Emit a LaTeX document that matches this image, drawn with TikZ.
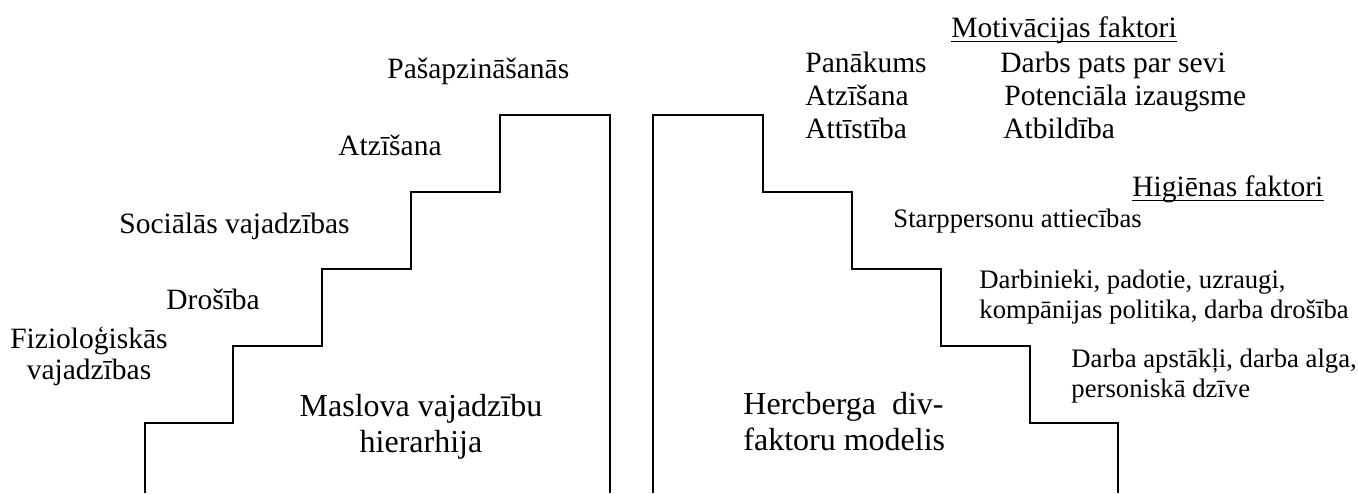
\documentclass[tikz,border=0pt]{standalone}
\usepackage{fontspec}
\setmainfont{Liberation Serif}
\begin{document}
\begin{tikzpicture}[x=0.5pt,y=-0.5pt,
    lbl/.style={anchor=base west, inner sep=0pt, font=\fontsize{14.75}{16}\selectfont},
    sml/.style={anchor=base west, inner sep=0pt, align=left, font=\fontsize{13.35}{15}\selectfont},
    big/.style={anchor=base, inner sep=0pt, align=center, font=\fontsize{16}{18}\selectfont},
    uline/.style={line width=0.5pt}]
  \useasboundingbox (0,0) rectangle (1358,493);
  % Maslow stairs
  \draw[line width=0.95pt] (145,493) -- (145,423) -- (233,423) -- (233,346) -- (322,346) -- (322,269)
    -- (411,269) -- (411,192) -- (500,192) -- (500,115) -- (610,115) -- (610,493);
  % Herzberg stairs
  \draw[line width=0.95pt] (1118,493) -- (1118,423) -- (1030,423) -- (1030,346) -- (941,346) -- (941,269)
    -- (852,269) -- (852,192) -- (763,192) -- (763,115) -- (653,115) -- (653,493);

  % multi-line nodes: base = last line
  \node[lbl] (selfact) at (387,78) {Pašapzināšanās};
  \node[lbl] (esteem) at (338,155) {Atzīšana};
  \node[lbl] (social) at (119,233) {Sociālās vajadzības};
  \node[lbl] (safety) at (166,309) {Drošība};
  \node[lbl, anchor=base, align=center, font=\fontsize{14.75}{15.5}\selectfont] (physio) at (89,379) {Fizioloģiskās\\vajadzības};
  \node[big] (maslow) at (421,452) {Maslova vajadzību\\hierarhija};

  \node[lbl] (motiv) at (951,37) {Motivācijas faktori};
  \draw[uline] ([yshift=-2pt]motiv.base west) -- ([yshift=-2pt]motiv.base east);
  \node[lbl] (m1) at (805,72) {Panākums};
  \node[lbl] (m2) at (805,105) {Atzīšana};
  \node[lbl] (m3) at (805,138) {Attīstība};
  \node[lbl] (m4) at (1000,72) {Darbs pats par sevi};
  \node[lbl] (m5) at (1004,105) {Potenciāla izaugsme};
  \node[lbl] (m6) at (1003,138) {Atbildība};

  \node[lbl] (hyg) at (1132,196) {Higiēnas faktori};
  \draw[uline] ([yshift=-2pt]hyg.base west) -- ([yshift=-2pt]hyg.base east);
  \node[sml] (h1) at (893,227) {Starppersonu attiecības};
  \node[sml] (h2) at (979,318) {Darbinieki, padotie, uzraugi,\\kompānijas politika, darba drošība};
  \node[sml] (h3) at (1071,397) {Darba apstākļi, darba alga,\\personiskā dzīve};
  \node[big, anchor=base west, align=left] (herz) at (743,450) {Hercberga\ \ div-\\faktoru modelis};
\end{tikzpicture}
\end{document}
